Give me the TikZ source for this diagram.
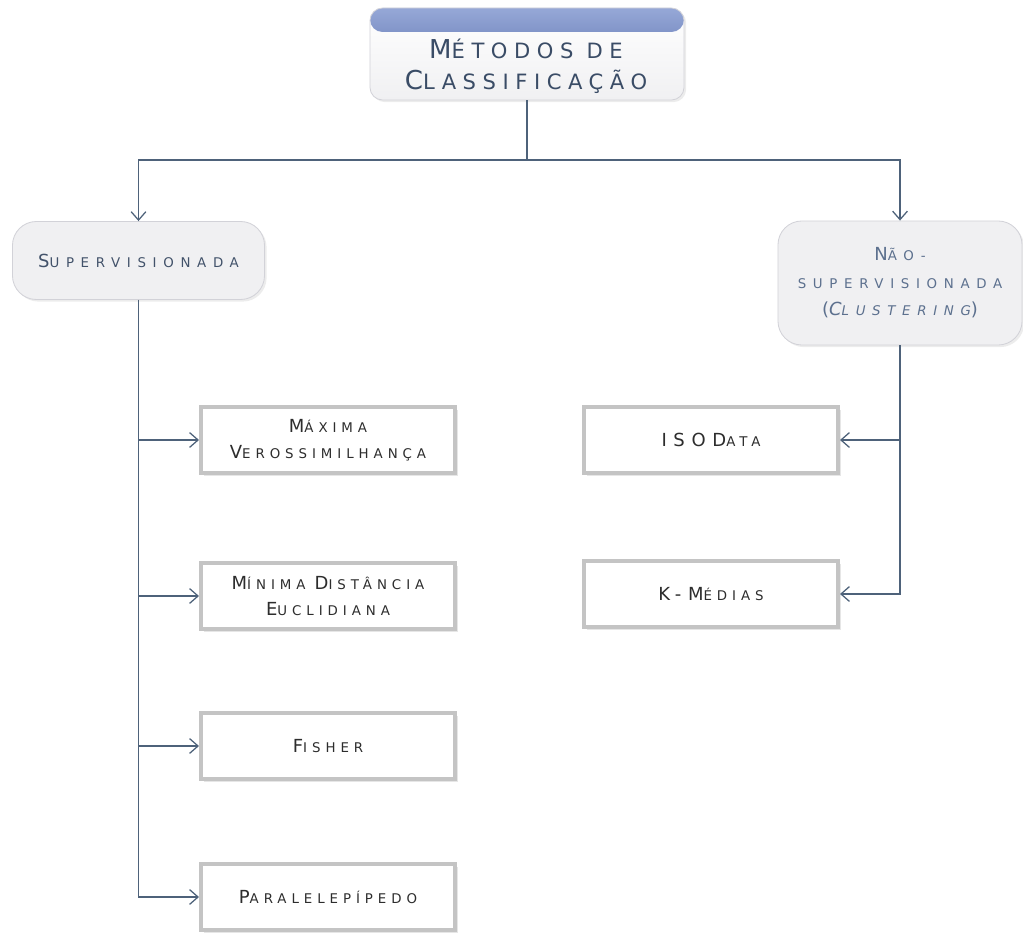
\documentclass[tikz,border=0pt]{standalone}
\usepackage{fontspec}
\setmainfont{DejaVu Sans}
\newfontfamily\boxfont[LetterSpace=37]{DejaVu Sans}
\newfontfamily\roundfont[LetterSpace=50]{DejaVu Sans}
\newfontfamily\titlefont[LetterSpace=31]{DejaVu Sans}
\usepackage{xcolor}
\usetikzlibrary{arrows.meta, shadows, calc}

\definecolor{linkblue}{RGB}{78,98,122}
\definecolor{titletext}{RGB}{58,76,102}
\definecolor{suptext}{RGB}{66,82,106}
\definecolor{nsuptext}{RGB}{92,112,142}
\definecolor{boxtext}{RGB}{45,45,45}
\definecolor{boxedge}{RGB}{196,196,196}
\definecolor{nodefill}{RGB}{240,240,242}
\definecolor{nodeedge}{RGB}{210,210,216}
\definecolor{bandtop}{RGB}{150,168,215}
\definecolor{bandbot}{RGB}{72,94,160}

% big first letter, small caps for the rest
\newcommand{\capsm}[2]{{\fontsize{12.8}{18.5}\selectfont #1}{\fontsize{9.5}{18.5}\selectfont #2}}
\newcommand{\ttlsm}[2]{{\fontsize{18.5}{22}\selectfont #1}{\fontsize{15}{22}\selectfont #2}}

\begin{document}
\begin{tikzpicture}[x=0.025cm, y=-0.025cm,
    titlebox/.style={rectangle, rounded corners=9pt, top color=white, bottom color=nodefill,
                     draw=nodeedge, line width=0.6pt, minimum width=7.85cm, minimum height=2.3cm,
                     path picture={\shade[top color=bandtop, bottom color=bandbot]
                        (path picture bounding box.north west) rectangle
                        ([yshift=-0.6cm]path picture bounding box.north east);},
                     drop shadow={shadow xshift=1.5pt, shadow yshift=-1.5pt, opacity=0.15}},
    roundbox/.style={rectangle, rounded corners=17pt, fill=nodefill, draw=nodeedge,
                     line width=0.6pt, align=center, font=\roundfont\fontsize{9.5}{18.5}\selectfont,
                     drop shadow={shadow xshift=1.5pt, shadow yshift=-1.5pt, opacity=0.15}},
    methodbox/.style={rectangle, fill=white, draw=boxedge, line width=2.8pt,
                      minimum width=6.35cm, minimum height=1.65cm, align=center, text=boxtext,
                      font=\boxfont\fontsize{9.5}{18.5}\selectfont,
                      drop shadow={shadow xshift=2pt, shadow yshift=-2pt, opacity=0.2}},
    link/.style={draw=linkblue, line width=0.9pt},
    arr/.style={link, -{Straight Barb[length=6pt, width=10.5pt]}},
]
\useasboundingbox (0,0) rectangle (1023,937);

% Top
\node[titlebox] (title) at (527, 54) {};
\node[align=center, text=titletext, font=\titlefont\fontsize{15}{22}\selectfont] (titlelbl) at (526, 66)
    {\ttlsm{M}{ÉTODOS DE}\\\ttlsm{C}{LASSIFICAÇÃO}};

% Two kinds
\node[roundbox, minimum width=6.3cm, minimum height=1.95cm, text=suptext] (supv) at (138.5, 260.5)
    {\capsm{S}{UPERVISIONADA}};
\node[roundbox, minimum width=6.1cm, minimum height=3.1cm, text=nsuptext] (nsup) at (900, 283)
    {\capsm{N}{ÃO-}\\[1pt]SUPERVISIONADA\\[1pt]\capsm{(}{}{\itshape\capsm{C}{LUSTERING}}\capsm{)}{}};

\coordinate (split) at (527, 160);
\draw[link] (title) -- (split);
\draw[arr] (split) -| (supv);
\draw[arr] (split) -| (nsup);

% Supervised methods (left column)
\node[methodbox] (maxver) at (328, 440) {\capsm{M}{ÁXIMA}\\\capsm{V}{EROSSIMILHANÇA}};
\node[methodbox] (mindist) at (328, 596) {\capsm{M}{ÍNIMA} \capsm{D}{ISTÂNCIA}\\\capsm{E}{UCLIDIANA}};
\node[methodbox] (fisher) at (328, 746) {\capsm{F}{ISHER}};
\node[methodbox] (parale) at (328, 897) {\capsm{P}{ARALELEPÍPEDO}};
\draw[arr] (supv.south |- maxver.west) -- (maxver.west);
\draw[arr] (supv.south |- mindist.west) -- (mindist.west);
\draw[arr] (supv.south |- fisher.west) -- (fisher.west);
\draw[arr] (supv.south) |- (parale.west);

% Clustering methods (right column)
\node[methodbox] (isodata) at (711, 440) {\capsm{ISOD}{ATA}};
\node[methodbox] (kmedias) at (711, 594) {\capsm{K-M}{ÉDIAS}};
\draw[arr] (nsup.south |- isodata.east) -- (isodata.east);
\draw[arr] (nsup.south) |- (kmedias.east);

\end{tikzpicture}
\end{document}
